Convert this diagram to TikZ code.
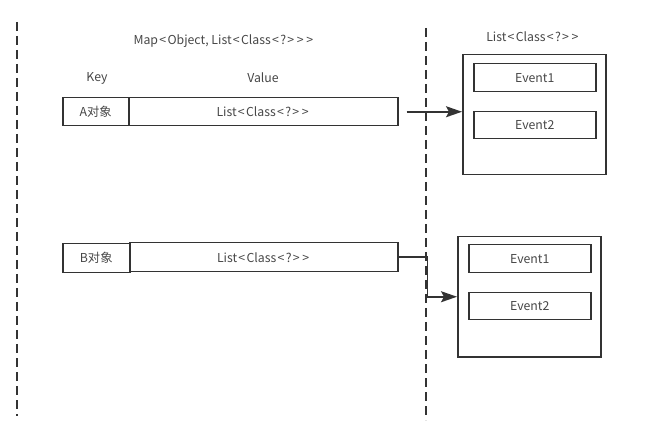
\documentclass[tikz,border=0pt]{standalone}
\usepackage{fontspec}
\setmainfont{Noto Sans CJK SC}[Ligatures=TeXOff]
\usetikzlibrary{arrows.meta,positioning,calc}
\definecolor{lineC}{HTML}{333333}
\definecolor{textC}{HTML}{474747}
\newcommand\angL{\kern1.3pt<\kern1.3pt}
\newcommand\angR{\kern1.3pt>\kern1.3pt}

\begin{document}
\begin{tikzpicture}[x=1pt, y=-1pt, >={Stealth[length=16pt,width=11pt,inset=3pt]},
  font=\fontsize{12.3}{14}\selectfont, text=textC,
  cell/.style={draw=lineC, line width=1.5pt, inner sep=0pt, anchor=north west},
  sep/.style={draw=lineC, line width=1.8pt, dash pattern=on 9pt off 5pt},
  link/.style={draw=lineC, line width=1.6pt}]
  \useasboundingbox (0,0) rectangle (664,446);

  %% Dashed separators
  \coordinate (sepL1) at (17,22);  \coordinate (sepL2) at (17,416);
  \coordinate (sepR1) at (426,28); \coordinate (sepR2) at (426,420);
  \draw[sep] (sepL1) -- (sepL2);
  \draw[sep] (sepR1) -- (sepR2);

  %% Map headings
  \node (mapTitle) at (224,41) {Map\angL Object, List\angL Class\angL?\angR\angR\angR};
  \node (keyHead) at (97,78) {Key};
  \node (valHead) at (263,78) {Value};
  \node (listHead) at (533,37) {List\angL Class\angL?\angR\angR};

  %% Entry A
  \node[cell, minimum width=66pt, minimum height=28pt] (keyA) at (62,97) {A对象};
  \node[cell, minimum width=269pt, minimum height=28pt] (valA) at (128,97) {List\angL Class\angL?\angR\angR};

  %% Entry B
  \node[cell, minimum width=67pt, minimum height=29pt] (keyB) at (62,243) {B对象};
  \node[cell, minimum width=268pt, minimum height=29pt] (valB) at (129,242) {List\angL Class\angL?\angR\angR};

  %% List for A
  \node[cell, minimum width=143pt, minimum height=120pt] (boxA) at (462,54) {};
  \node[cell, minimum width=122pt, minimum height=28pt] (evA1) at (473,63) {Event1};
  \node[cell, minimum width=122pt, minimum height=27pt] (evA2) at (473,111) {Event2};

  %% List for B
  \node[cell, minimum width=143pt, minimum height=120pt] (boxB) at (457,236) {};
  \node[cell, minimum width=122pt, minimum height=28pt] (evB1) at (468,244) {Event1};
  \node[cell, minimum width=122pt, minimum height=27pt] (evB2) at (468,292) {Event2};

  %% Links
  \draw[link, ->, shorten <=8pt] (valA.east) -- (valA.east -| boxA.west);
  \draw[link, ->] (valB.east) -- ++(29,0) |- (boxB.west);
\end{tikzpicture}
\end{document}
